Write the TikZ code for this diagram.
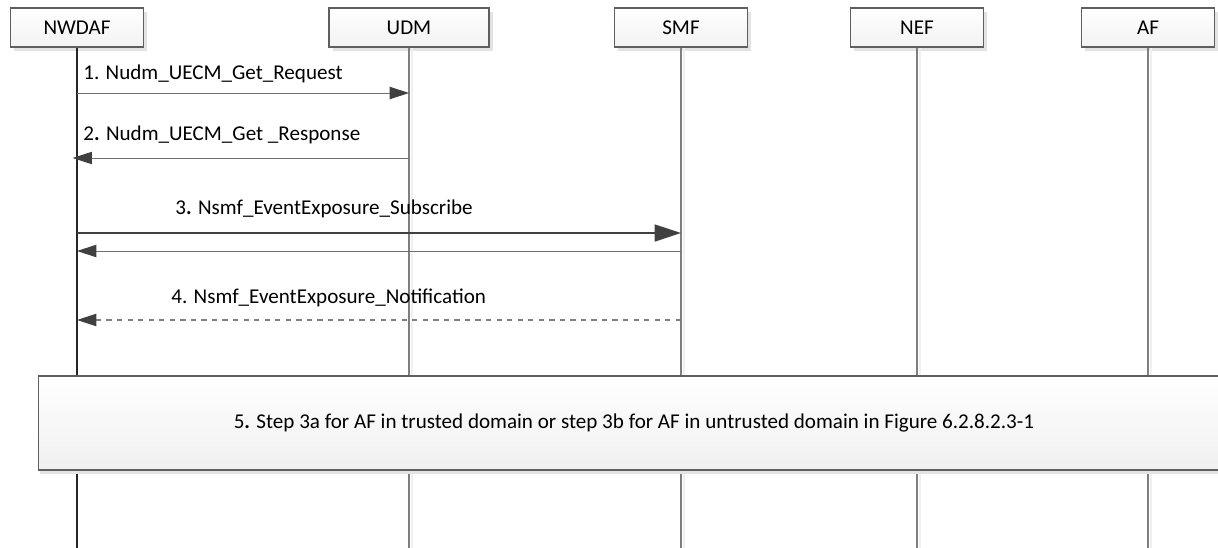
\documentclass[tikz,border=0pt]{standalone}
\usepackage{fontspec}
\setmainfont{Carlito}
\usetikzlibrary{arrows.meta, calc, shadows}
\definecolor{linegray}{HTML}{5F5F5F}
\definecolor{headgray}{HTML}{404040}
\tikzset{
  entity box/.style={
    draw=linegray,
    line width=0.6pt,
    top color=white,
    bottom color=gray!10,
    minimum width=2.66cm,
    minimum height=0.78cm,
    font=\fontsize{12}{14}\selectfont,
    drop shadow={shadow xshift=2pt, shadow yshift=-2pt, fill=gray!22, opacity=1}
  },
  lifeline/.style={
    draw=linegray!80,
    line width=0.7pt
  },
  lifeline shade/.style={
    draw=gray!12,
    line width=1.2pt
  },
  main lifeline/.style={
    draw=black!85,
    line width=1.2pt
  },
  msg/.style={
    -{Triangle[length=11pt, width=7pt, color=headgray]},
    draw=linegray!90,
    line width=0.55pt
  },
  main msg/.style={
    -{Triangle[length=15pt, width=9.5pt]},
    line width=1.4pt,
    color=headgray
  },
  note msg/.style={
    -{Triangle[length=11pt, width=7pt, color=headgray]},
    dashed,
    line width=0.6pt,
    draw=gray
  },
  msg label/.style={
    anchor=west,
    inner sep=0pt,
    font=\fontsize{12}{14}\selectfont
  },
  step box/.style={
    draw=linegray,
    line width=0.6pt,
    top color=white,
    bottom color=gray!12,
    minimum width=23.84cm,
    minimum height=1.88cm,
    font=\fontsize{12}{14}\selectfont,
    drop shadow={shadow xshift=1pt, shadow yshift=-2.5pt, fill=gray!22, opacity=1}
  }
}

\begin{document}
\begin{tikzpicture}[x=0.02cm, y=-0.02cm]
  \useasboundingbox (0,0) rectangle (1218,548);

  % 1. Netzfunktionen
  \node[entity box] (nwdaf) at (77,27.5) {NWDAF};
  \node[entity box, minimum width=3.2cm] (udm) at (409,27.5) {UDM};
  \node[entity box] (smf) at (681,27.5) {SMF};
  \node[entity box] (nef) at (917,27.5) {NEF};
  \node[entity box] (af) at (1148,27.5) {AF};

  % 2. Lebenslinien
  \coordinate (bottom) at (0,548);
  \foreach \e in {udm,smf,nef,af}{
    \draw[lifeline shade] ($(\e.south)+(3,0)$) -- ($(\e.south |- bottom)+(3,0)$);
    \draw[lifeline] (\e.south) -- (\e.south |- bottom);
  }
  \draw[main lifeline] (nwdaf.south) -- (nwdaf.south |- bottom);

  % 3. Nachrichten (Zeilen)
  \coordinate (r1) at (0,93);
  \coordinate (r2) at (0,158);
  \coordinate (r3) at (0,233);
  \coordinate (r3b) at (0,251);
  \coordinate (r4) at (0,320);

  \draw[msg] (nwdaf |- r1) -- (udm |- r1);
  \node[msg label] (l1) at (83,74) {1. Nudm\_UECM\_Get\_Request};

  \draw[msg, shorten >=-2.5pt] (udm |- r2) -- (nwdaf |- r2);
  \node[msg label] (l2) at (83,135) {2\textbf{.} Nudm\_UECM\_Get \_Response};

  \draw[main msg] (nwdaf |- r3) -- (smf |- r3);
  \node[msg label] (l3) at (175,209) {3\textbf{.} Nsmf\_EventExposure\_Subscribe};
  \draw[msg] (smf |- r3b) -- (nwdaf |- r3b);

  \draw[note msg] (smf |- r4) -- (nwdaf |- r4);
  \node[msg label] (l4) at (171,298) {4. Nsmf\_EventExposure\_Notification};

  % 4. Schritt 5
  \node[step box] (s5) at (634,423) {5\textbf{.} Step 3a for AF in trusted domain or step 3b for AF in untrusted domain in Figure 6.2.8.2.3-1};
\end{tikzpicture}
\end{document}
